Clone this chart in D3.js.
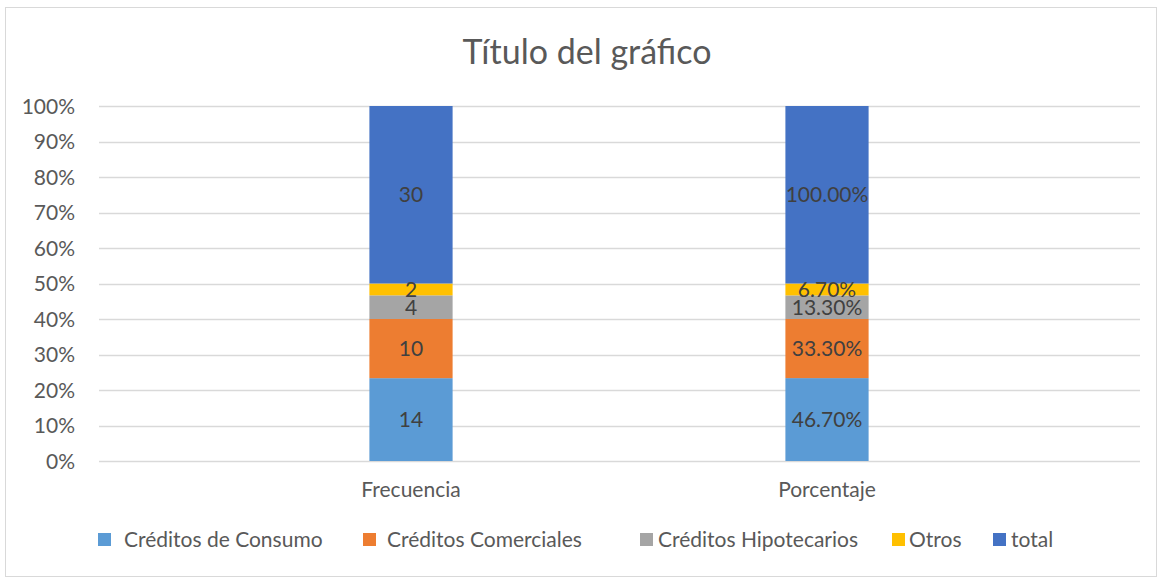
<!DOCTYPE html>
<html>
<head>
<meta charset="utf-8">
<script src="https://cdn.jsdelivr.net/npm/d3@7"></script>
<style>
  body { margin: 0; background: #fff; }
  svg text { font-family: Lato, "Open Sans", sans-serif; }
</style>
</head>
<body>
<script>
// data
var categories = ["Frecuencia", "Porcentaje"];
var seriesNames = ["Créditos de Consumo", "Créditos Comerciales", "Créditos Hipotecarios", "Otros", "total"];
var frecuencia = [14, 10, 4, 2, 30];
var porcentaje = [46.7, 33.3, 13.3, 6.7, 100];
var labelsFrecuencia = ["14", "10", "4", "2", "30"];
var labelsPorcentaje = ["46.70%", "33.30%", "13.30%", "6.70%", "100.00%"];
var yTicks = [0, 0.1, 0.2, 0.3, 0.4, 0.5, 0.6, 0.7, 0.8, 0.9, 1];
var colors = ["#5B9BD5", "#ED7D31", "#A5A5A5", "#FFC000", "#4472C4"];

var W = 1159, H = 578;
var plot = {left: 99, right: 1140, top: 106, bottom: 461};
var fs = "21px";

var svg = d3.select("body").append("svg")
    .attr("width", W)
    .attr("height", H);

// chart border
svg.append("rect")
    .attr("x", 5.5).attr("y", 7.5)
    .attr("width", W - 8).attr("height", H - 9)
    .attr("fill", "#fff")
    .attr("stroke", "#d9d9d9");

// title
svg.append("text")
    .attr("x", 587).attr("y", 64)
    .attr("text-anchor", "middle")
    .attr("font-size", "34px")
    .attr("fill", "#595959")
    .text("Título del gráfico");

var rows = categories.map(function(c, i) {
  var vals = i === 0 ? frecuencia : porcentaje;
  var labs = i === 0 ? labelsFrecuencia : labelsPorcentaje;
  var row = {cat: c, labels: labs};
  seriesNames.forEach(function(s, j) { row[s] = vals[j]; });
  return row;
});

var stacked = d3.stack()
    .keys(seriesNames)
    .offset(d3.stackOffsetExpand)(rows);

var x = d3.scaleBand()
    .domain(categories)
    .range([203, 1035])
    .paddingInner(0.8)
    .paddingOuter(0.4);

var y = d3.scaleLinear()
    .domain([0, 1])
    .range([plot.bottom, plot.top]);

// gridlines
svg.append("g")
    .selectAll("line")
    .data(yTicks)
    .enter().append("line")
    .attr("x1", plot.left).attr("x2", plot.right)
    .attr("y1", function(d) { return Math.round(y(d)) + 0.5; })
    .attr("y2", function(d) { return Math.round(y(d)) + 0.5; })
    .attr("stroke", "#d9d9d9")
    .attr("stroke-width", 1.3);

// y axis
var yAxis = svg.append("g")
    .attr("transform", "translate(" + (plot.left - 24) + ",0)")
    .call(d3.axisLeft(y).tickValues(yTicks).tickFormat(d3.format(".0%")).tickSize(0).tickPadding(0));
yAxis.select(".domain").remove();
yAxis.selectAll("text")
    .attr("font-family", "Lato, 'Open Sans', sans-serif")
    .attr("font-size", fs)
    .attr("fill", "#595959")
    .attr("dy", "0.35em");

// x axis labels
var xAxis = svg.append("g")
    .attr("transform", "translate(0," + plot.bottom + ")")
    .call(d3.axisBottom(x).tickSize(0).tickPadding(21));
xAxis.select(".domain").remove();
xAxis.selectAll("text")
    .attr("font-family", "Lato, 'Open Sans', sans-serif")
    .attr("font-size", fs)
    .attr("fill", "#595959")
    .attr("dy", "0.71em");

// bars
var layer = svg.append("g").selectAll("g")
    .data(stacked)
    .enter().append("g")
    .attr("fill", function(d, i) { return colors[i]; });

layer.selectAll("rect")
    .data(function(d) { return d; })
    .enter().append("rect")
    .attr("x", function(d) { return x(d.data.cat); })
    .attr("y", function(d) { return y(d[1]); })
    .attr("width", x.bandwidth())
    .attr("height", function(d) { return y(d[0]) - y(d[1]); });

// data labels
stacked.forEach(function(s, i) {
  svg.append("g").selectAll("text")
    .data(s)
    .enter().append("text")
    .attr("x", function(d) { return x(d.data.cat) + x.bandwidth() / 2; })
    .attr("y", function(d) { return (y(d[0]) + y(d[1])) / 2; })
    .attr("dy", "0.35em")
    .attr("text-anchor", "middle")
    .attr("font-size", fs)
    .attr("fill", "#404040")
    .text(function(d) { return d.data.labels[i]; });
});

// legend
var legendX = [98, 363, 640, 892, 993];
var legendTextGap = [26, 24, 18, 17, 18];
var legend = svg.append("g").selectAll("g")
    .data(seriesNames)
    .enter().append("g")
    .attr("transform", function(d, i) { return "translate(" + legendX[i] + ",533)"; });
legend.append("rect")
    .attr("width", 13).attr("height", 13)
    .attr("fill", function(d, i) { return colors[i]; });
legend.append("text")
    .attr("x", function(d, i) { return legendTextGap[i]; })
    .attr("y", 7)
    .attr("dy", "0.35em")
    .attr("font-size", fs)
    .attr("fill", "#595959")
    .text(function(d) { return d; });
</script>
</body>
</html>
